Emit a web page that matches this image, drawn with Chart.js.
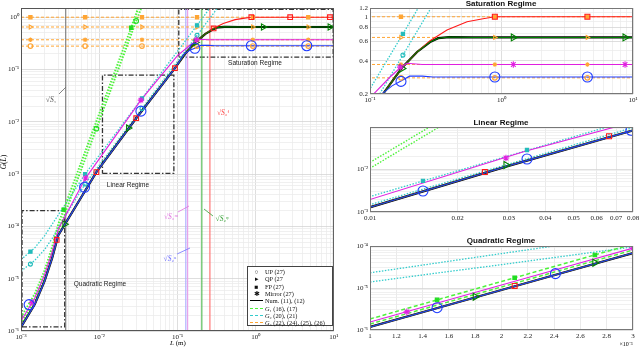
<!DOCTYPE html>
<html>
<head>
<meta charset="utf-8">
<script src="https://cdn.jsdelivr.net/npm/chart.js@4.4.0/dist/chart.umd.min.js"></script>
<style>
  body { margin:0; width:640px; height:348px; overflow:hidden; position:relative; background:#fff; font-family:'Liberation Serif', serif; }
  canvas { position:absolute; }
  .t { position:absolute; white-space:nowrap; transform:translate(-50%,-50%); line-height:1; }
  .ttl { font-family:'Liberation Sans', Arial, sans-serif; font-weight:bold; font-size:8px; color:#111; }
  .reg { font-family:'Liberation Sans', Arial, sans-serif; font-size:6.5px; color:#222; }
  .sq { font-size:7.5px; }
  #legend { position:absolute; left:247px; top:266px; width:86px; height:60px; border:1px solid #444; background:#fff; font-size:6.3px; color:#111; padding-top:1px; box-sizing:border-box; }
  #legend .row { height:7.3px; display:flex; align-items:center; }
  #legend .mk { width:17px; text-align:center; font-size:6.5px; }
  #legend .ln { width:13px; margin:0 2px 0 2px; height:0; border-top:1.3px solid #000; }
  svg { position:absolute; left:0; top:0; }
</style>
</head>
<body>
<canvas id="main" width="340" height="348" style="left:0;top:0"></canvas>
<canvas id="sat" width="300" height="105" style="left:340px;top:0"></canvas>
<canvas id="lin" width="300" height="105" style="left:340px;top:118px"></canvas>
<canvas id="quad" width="300" height="111" style="left:340px;top:237px"></canvas>

<svg width="640" height="348">
  <line x1="59" y1="94" x2="66" y2="87" stroke="#666" stroke-width="0.8"/>
  <line x1="178" y1="212" x2="189" y2="206" stroke="#e070e0" stroke-width="0.8"/>
  <line x1="177" y1="254" x2="190" y2="248" stroke="#7070ff" stroke-width="0.8"/>
  <line x1="204" y1="209" x2="213" y2="216" stroke="#33a033" stroke-width="0.8"/>
</svg>

<div class="t sq" style="left:51px;top:100px;color:#555">√<i>S</i>₁</div>
<div class="t sq" style="left:171px;top:217px;color:#e070e0">√<i>S</i>₂ᵐ</div>
<div class="t sq" style="left:170px;top:259px;color:#6a6aff">√<i>S</i>₂ᵘ</div>
<div class="t sq" style="left:222px;top:219px;color:#33a033">√<i>S</i>₂ᵠ</div>
<div class="t sq" style="left:223px;top:113px;color:#ff4444">√<i>S</i>₂ᶠ</div>

<div class="t reg" style="left:255px;top:63px">Saturation Regime</div>
<div class="t reg" style="left:128px;top:185px">Linear Regime</div>
<div class="t reg" style="left:100px;top:284px">Quadratic Regime</div>
<div class="t" style="left:4px;top:162px;font-size:7.5px;transform:translate(-50%,-50%) rotate(-90deg)"><i>G</i>(<i>L</i>)</div>
<div class="t" style="left:178px;top:343px;font-size:7px"><i>L</i> (m)</div>

<div class="t ttl" style="left:501px;top:4px">Saturation Regime</div>
<div class="t ttl" style="left:501px;top:123px">Linear Regime</div>
<div class="t ttl" style="left:501px;top:241px">Quadratic Regime</div>
<div class="t" style="left:626px;top:344px;font-size:6px">×10⁻³</div>

<div id="legend">
  <div class="row"><span class="mk">○</span>UP (27)</div>
  <div class="row"><span class="mk">▸</span>QP (27</div>
  <div class="row"><span class="mk">■</span>FP (27)</div>
  <div class="row"><span class="mk">✱</span>Mirror (27)</div>
  <div class="row"><span class="ln"></span>Num. (11), (12)</div>
  <div class="row"><span class="ln" style="border-top:1.3px dashed #4df23a"></span><i>G</i>₁ (16), (17)</div>
  <div class="row"><span class="ln" style="border-top:1.8px dashed #33cccc"></span><i>G</i>₂ (20), (21)</div>
  <div class="row"><span class="ln" style="border-top:1.3px dashed #ffa533"></span><i>G</i>₃ (22), (24), (25), (26)</div>
</div>

<script>
// colours
const RED = '#ff1a1a', GREEN = '#008000', MAG = '#e020e0', BLUE = '#1f3cff';
const G1C = '#4df23a', G2C = '#33cccc', G3C = '#ffa533';

// numerical curves G(L)
const fpL = [0.001, 0.0015, 0.002, 0.0025, 0.003, 0.0092, 0.0297, 0.0929, 0.1255, 0.175, 0.228, 0.286, 0.385, 0.547, 0.724, 0.89, 10];
const fpG = [1.18e-6, 3.25e-6, 8.95e-6, 2.47e-5, 6.8e-5, 1.09e-3, 0.0117, 0.106, 0.2, 0.345, 0.48, 0.606, 0.76, 0.9, 0.96, 1, 1];
const qpL = [0.001, 0.0015, 0.002, 0.0025, 0.003, 0.0092, 0.0297, 0.0929, 0.1255, 0.175, 0.228, 0.286, 0.33, 0.4, 0.6, 10];
const qpG = [1.18e-6, 3.25e-6, 8.95e-6, 2.47e-5, 6.8e-5, 1.09e-3, 0.0117, 0.106, 0.2, 0.345, 0.48, 0.59, 0.64, 0.655, 0.65, 0.65];
const upL = [0.001, 0.0015, 0.002, 0.0025, 0.003, 0.0092, 0.0297, 0.0929, 0.123, 0.147, 0.172, 0.2, 0.25, 0.3, 10];
const upG = [1.18e-6, 3.25e-6, 8.95e-6, 2.47e-5, 6.8e-5, 1.09e-3, 0.0117, 0.106, 0.2, 0.237, 0.262, 0.29, 0.29, 0.285, 0.285];
const mirL = [0.001, 0.0015, 0.002, 0.0025, 0.003, 0.0067, 0.0341, 0.1, 0.142, 0.169, 0.191, 0.25, 10];
const mirG = [1.55e-6, 4.27e-6, 1.18e-5, 3.25e-5, 8.9e-5, 8.4e-4, 0.026, 0.185, 0.285, 0.344, 0.38, 0.37, 0.37];

// approximations G1, G2, G3
const g1aL = [0.001, 0.0015, 0.002, 0.0025, 0.003, 0.0256, 0.0315];
const g1aG = [1.83e-6, 5.1e-6, 1.43e-5, 3.99e-5, 1.11e-4, 0.63, 1.5];
const g1bL = [0.001, 0.0015, 0.002, 0.0025, 0.003, 0.0297, 0.035];
const g1bG = [1.39e-6, 3.83e-6, 1.06e-5, 2.92e-5, 8.0e-5, 0.85, 1.6];
const g2aL = [0.001, 0.0015, 0.002, 0.0024, 0.0066, 0.0352, 0.178, 0.26];
const g2aG = [2.3e-5, 3.9e-5, 6.6e-5, 1.0e-4, 1.0e-3, 0.028, 0.70, 1.5];
const g2bL = [0.001, 0.0015, 0.002, 0.0025, 0.003, 0.0066, 0.0352, 0.178, 0.325];
const g2bG = [1.39e-5, 2.25e-5, 3.6e-5, 5.85e-5, 9.5e-5, 6.5e-4, 0.018, 0.45, 1.5];
const g3Levels = [1, 0.65, 0.37, 0.28];
const g3Span = [0.001, 10];

// sqrt(S) markers and regime boxes (main plot)
const sqrtS = [0.00373, 0.128, 0.135, 0.205, 0.26];
const sqrtSColors = ['#777777', '#a8a8ff', '#e79be7', '#4cb84c', '#ff6a6a'];
const quadBox = [0.00103, 0.00362, 1.2e-6, 2.0e-4];
const linBox = [0.011, 0.09, 1.03e-3, 0.078];
const satBox = [0.104, 9.8, 0.172, 1.42];

// markers, main plot
const mainUpL = [0.00127, 0.0065, 0.0341, 0.167, 0.88, 4.5];
const mainUpG = [3.2e-6, 5.6e-4, 0.016, 0.255, 0.285, 0.285];
const mainFpL = [0.00286, 0.0092, 0.0297, 0.0929, 0.29, 0.88, 2.76, 8.9];
const mainFpG = [5.5e-5, 1.09e-3, 0.0117, 0.106, 0.61, 1, 1, 1];
const mainQpL = [0.00362, 0.0236, 0.172, 1.25, 8.9];
const mainQpG = [1.1e-4, 7.6e-3, 0.33, 0.65, 0.65];
const mainMirL = [0.00138, 0.0067, 0.0341, 0.175];
const mainMirG = [3.5e-6, 8.4e-4, 0.026, 0.37];
const mainG1aL = [0.0035, 0.0256];
const mainG1aG = [2.1e-4, 0.63];
const mainG1bL = [0.0092, 0.0297];
const mainG1bG = [7.4e-3, 0.85];
const mainG2L = [0.00132, 0.0066, 0.0352, 0.178];
const mainG2aG = [3.3e-5, 1.0e-3, 0.028, 0.70];
const mainG2bG = [1.9e-5, 6.5e-4, 0.018, 0.45];
const mainG3L = [0.00132, 0.0066, 0.0352, 0.178, 0.92, 4.7];

// markers, saturation panel
const satG3L = [0.172, 0.89, 4.5];
const satUpL = [0.172, 0.89, 4.5];
const satUpG = [0.26, 0.285, 0.285];
const satFpL = [0.89, 4.5];
const satFpG = [1, 1];
const satQpL = [0.175, 1.23, 8.7];
const satQpG = [0.34, 0.65, 0.65];
const satMirL = [0.17, 1.23, 8.7];
const satMirG = [0.35, 0.37, 0.37];
const satG2L = [0.178];
const satG2aG = [0.70];
const satG2bG = [0.45];

// markers, linear panel
const linUpL = [0.0152, 0.0346, 0.0787];
const linUpG = [3.08e-3, 0.0171, 0.08];
const linFpL = [0.0248, 0.0662];
const linFpG = [8.5e-3, 0.058];
const linQpL = [0.0293];
const linQpG = [0.0124];
const linMirL = [0.0293];
const linMirG = [0.018];
const linG2L = [0.0152, 0.0346];
const linG2G = [5.3e-3, 0.0277];

// markers, quadratic panel
const quadUpL = [0.00151, 0.00241];
const quadUpG = [3.4e-6, 2.2e-5];
const quadFpL = [0.0021];
const quadFpG = [1.12e-5];
const quadQpL = [0.0018, 0.00271];
const quadQpG = [6.2e-6, 4.0e-5];
const quadMirL = [0.00128, 0.003];
const quadMirG = [2.7e-6, 8.9e-5];
const quadG1L = [0.00151, 0.0021, 0.00271];
const quadG1G = [5.2e-6, 1.75e-5, 6.1e-5];

// axis ticks
const mainXDec = [-3, -2, -1, 0, 1];
const mainYDec = [-6, -5, -4, -3, -2, -1, 0];
const satXDec = [-1, 0, 1];
const satYTicks = [0.2, 0.3, 0.4, 0.5, 0.6, 0.7, 0.8, 0.9, 1, 1.1, 1.2];
const satYLabels = ['0.2', '0.4', '0.6', '0.8', '1', '1.2'];
const linXDec = [-2];
const linYDec = [-3, -2];
const quadXTicks = [1, 1.2, 1.4, 1.6, 1.8, 2, 2.2, 2.4, 2.6, 2.8, 3];
const quadYDec = [-6, -5, -4];

const SUP = { '-': '⁻', '0': '⁰', '1': '¹', '2': '²', '3': '³', '4': '⁴', '5': '⁵', '6': '⁶', '7': '⁷', '8': '⁸', '9': '⁹' };
function isDecade(v) { const l = Math.log10(v); return Math.abs(l - Math.round(l)) < 1e-6; }
function pow10(v) { return '10' + String(Math.round(Math.log10(v))).split('').map(c => SUP[c]).join(''); }
function decLabel(v) { return isDecade(v) ? pow10(v) : ''; }
function logTicks(decades, max) {
  const out = [];
  decades.forEach(d => {
    for (let k = 1; k < 10; k++) {
      const v = k * Math.pow(10, d);
      if (v <= max * 1.0001) out.push(v);
    }
  });
  return out;
}
const logGrid = ctx => (ctx.tick && isDecade(ctx.tick.value)) ? '#d6d6d6' : '#ececec';
const flatGrid = () => '#e4e4e4';

function axis(pos, type, min, max, ticks, label, size, grid) {
  const a = {
    type, min, max, position: pos,
    afterBuildTicks: s => { s.ticks = ticks.map(v => ({ value: v })); },
    afterFit: s => {
      if (pos === 'bottom') { s.height = size; s.paddingLeft = 0; s.paddingRight = 0; }
      else { s.width = size; s.paddingTop = 0; s.paddingBottom = 0; }
    },
    ticks: { autoSkip: false, maxRotation: 0, minRotation: 0, padding: 2, color: '#222',
      font: { family: 'Liberation Serif', size: 7 }, callback: v => label(v) },
    grid: { color: grid, drawTicks: false, lineWidth: 0.8 },
    border: { display: false }
  };
  return a;
}

function pts(xs, ys) { return xs.map((x, i) => ({ x, y: ys[i] })); }
function curve(xs, ys, color, w, dash) {
  return { data: pts(xs, ys), showLine: true, borderColor: color, borderWidth: w, borderDash: dash || [], pointRadius: 0, tension: 0 };
}
function marks(xs, ys, style, color, r, fill, rot) {
  return { data: pts(xs, ys), showLine: false, pointStyle: style, pointRadius: r, pointRotation: rot || 0,
    borderColor: color, backgroundColor: fill ? color : 'rgba(255,255,255,0)',
    pointBorderColor: color, pointBackgroundColor: fill ? color : 'rgba(255,255,255,0)', pointBorderWidth: 1.1 };
}
function curveSets(g1Dash, g1W) {
  return [
    ...g3Levels.map(v => curve(g3Span, [v, v], G3C, 1, [3, 2])),
    curve(g2aL, g2aG, G2C, 1.3, [1.5, 1.5]),
    curve(g2bL, g2bG, G2C, 1.3, [1.5, 1.5]),
    curve(g1aL, g1aG, G1C, g1W, g1Dash),
    curve(g1bL, g1bG, G1C, g1W, g1Dash),
    curve(qpL, qpG, '#000', 2.2),
    curve(fpL, fpG, RED, 1.1),
    curve(qpL, qpG, GREEN, 1.1),
    curve(mirL, mirG, MAG, 1.1),
    curve(upL, upG, BLUE, 1.1)
  ];
}
function box(b) {
  const [x0, x1, y0, y1] = b;
  return curve([x0, x1, x1, x0, x0], [y0, y0, y1, y1, y0], '#333', 1.3, [5, 2, 1.5, 2]);
}

const frame = {
  id: 'frame',
  afterDraw(c, args, o) {
    const { ctx, chartArea: { left, top, right, bottom } } = c;
    ctx.save();
    ctx.strokeStyle = o.color || '#555';
    ctx.lineWidth = 1;
    ctx.strokeRect(left + 0.5, top + 0.5, right - left - 1, bottom - top - 1);
    ctx.restore();
  }
};

function makeChart(id, datasets, scales, pad, frameColor) {
  return new Chart(document.getElementById(id), {
    type: 'scatter',
    data: { datasets: datasets.slice().reverse() },
    options: {
      responsive: false, animation: false, devicePixelRatio: 1, events: [],
      layout: { padding: pad },
      plugins: { legend: { display: false }, tooltip: { enabled: false }, frame: { color: frameColor } },
      scales
    },
    plugins: [frame]
  });
}

// ---- main plot
const g3Styles = [['rect', true, 0], ['triangle', false, 90], ['star', true, 0], ['circle', false, 0]];
const mainSets = [
  box(quadBox), box(linBox), box(satBox),
  ...sqrtS.map((L, i) => curve([L, L], [1e-6, 1.5], sqrtSColors[i], 1.1)),
  ...curveSets([1.5, 1.5], 2),
  ...g3Levels.map((v, i) => marks(mainG3L, mainG3L.map(() => v), g3Styles[i][0], G3C, 2.3, g3Styles[i][1], g3Styles[i][2])),
  marks(mainG2L, mainG2aG, 'rect', '#22bbbb', 2.3, true),
  marks(mainG2L, mainG2bG, 'circle', '#22bbbb', 2, false),
  marks(mainG1aL, mainG1aG, 'rect', '#22dd22', 2.3, true),
  marks(mainG1bL, mainG1bG, 'circle', '#22dd22', 2.3, false),
  marks(mainFpL, mainFpG, 'rect', RED, 3.3, false),
  marks(mainQpL, mainQpG, 'triangle', GREEN, 3.6, false, 90),
  marks(mainMirL, mainMirG, 'star', MAG, 3.2, true),
  marks(mainUpL, mainUpG, 'circle', BLUE, 5, false)
];
makeChart('main', mainSets, {
  x: axis('bottom', 'logarithmic', 0.001, 10, logTicks(mainXDec, 10), decLabel, 17, logGrid),
  y: axis('left', 'logarithmic', 1e-6, 1.5, logTicks(mainYDec, 1.5), decLabel, 21, logGrid)
}, { left: 0, top: 8, right: 3, bottom: 0 }, '#555');

// ---- saturation panel
const satSets = [
  ...curveSets([1.5, 1.5], 1.6),
  ...g3Levels.map((v, i) => marks(satG3L, satG3L.map(() => v), g3Styles[i][0], G3C, 2.3, g3Styles[i][1], g3Styles[i][2])),
  marks(satG2L, satG2aG, 'rect', '#22bbbb', 2.3, true),
  marks(satG2L, satG2bG, 'circle', '#22bbbb', 2, false),
  marks(satFpL, satFpG, 'rect', RED, 3.5, false),
  marks(satQpL, satQpG, 'triangle', GREEN, 4, false, 90),
  marks(satMirL, satMirG, 'star', MAG, 3.3, true),
  marks(satUpL, satUpG, 'circle', BLUE, 5, false)
];
makeChart('sat', satSets, {
  x: axis('bottom', 'logarithmic', 0.1, 10, logTicks(satXDec, 10), decLabel, 11, logGrid),
  y: axis('left', 'logarithmic', 0.2, 1.2, satYTicks, v => {
    const s = String(Math.round(v * 10) / 10);
    return satYLabels.includes(s) ? s : '';
  }, 30, ctx => (ctx.tick && satYLabels.includes(String(Math.round(ctx.tick.value * 10) / 10))) ? '#d6d6d6' : '#ececec')
}, { left: 0, top: 8, right: 7, bottom: 0 }, '#777');

// ---- linear panel
const linSets = [
  ...curveSets([1.5, 1.5], 1.4),
  marks(linG2L, linG2G, 'rect', '#22bbbb', 2.3, true),
  marks(linFpL, linFpG, 'rect', RED, 3.5, false),
  marks(linQpL, linQpG, 'triangle', GREEN, 4, false, 90),
  marks(linMirL, linMirG, 'star', MAG, 3.3, true),
  marks(linUpL, linUpG, 'circle', BLUE, 5, false)
];
makeChart('lin', linSets, {
  x: axis('bottom', 'logarithmic', 0.01, 0.08, logTicks(linXDec, 0.08), v => v.toFixed(2), 11, flatGrid),
  y: axis('left', 'logarithmic', 1e-3, 0.095, logTicks(linYDec, 0.095), decLabel, 30, logGrid)
}, { left: 0, top: 9, right: 7, bottom: 0 }, '#777');

// ---- quadratic panel
const quadSets = [
  ...curveSets([4, 2.5], 1.5),
  marks(quadG1L, quadG1G, 'rect', '#22dd22', 2.5, true),
  marks(quadFpL, quadFpG, 'rect', RED, 3.5, false),
  marks(quadQpL, quadQpG, 'triangle', GREEN, 4, false, 90),
  marks(quadMirL, quadMirG, 'star', MAG, 3.3, true),
  marks(quadUpL, quadUpG, 'circle', BLUE, 5, false)
];
makeChart('quad', quadSets, {
  x: axis('bottom', 'linear', 0.001, 0.003, quadXTicks.map(t => t * 1e-3), v => String(Math.round(v * 1e4) / 10), 18, flatGrid),
  y: axis('left', 'logarithmic', 1e-6, 1e-4, logTicks(quadYDec, 1e-4), decLabel, 30, logGrid)
}, { left: 0, top: 9, right: 7, bottom: 0 }, '#777');
</script>
</body>
</html>
